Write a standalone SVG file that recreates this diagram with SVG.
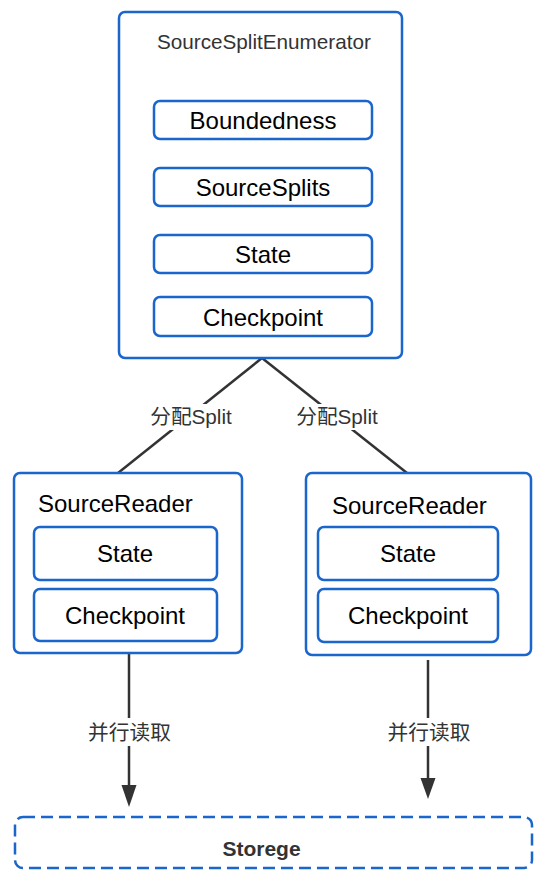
<svg xmlns="http://www.w3.org/2000/svg" width="544" height="881" viewBox="0 0 544 881">
<defs>
<style>
.box{fill:#fff;stroke:#1a66cc;stroke-width:2.5}
.dash{fill:#fff;stroke:#1a66cc;stroke-width:2.5;stroke-dasharray:12 6}
.t{font-family:"Liberation Sans",Arial,sans-serif;font-size:24px;fill:#000;text-anchor:middle}
.s{text-anchor:start}
.title{font-family:"Liberation Sans",Arial,sans-serif;font-size:20.7px;fill:#333}
.lbl{font-family:"Liberation Sans","Noto Sans CJK SC",sans-serif;font-size:20.7px;fill:#333;text-anchor:middle}
.ln{stroke:#333;stroke-width:2.5;fill:none}
</style>
</defs>
<g id="connectors">
<line class="ln" x1="262" y1="358" x2="118" y2="473"/>
<line class="ln" x1="262" y1="358" x2="407" y2="473"/>
<rect x="147" y="404" width="88" height="26" fill="#fff"/>
<rect x="293" y="404" width="88" height="26" fill="#fff"/>
<text class="lbl" x="191" y="424">分配Split</text>
<text class="lbl" x="337" y="424">分配Split</text>
<line class="ln" x1="129" y1="653" x2="129" y2="786"/>
<path d="M121.5,785 L136.5,785 L129,807 Z" fill="#333"/>
<line class="ln" x1="428" y1="660" x2="428" y2="779"/>
<path d="M420.5,778 L435.5,778 L428,799 Z" fill="#333"/>
<rect x="85" y="718" width="88" height="28" fill="#fff"/>
<rect x="384" y="718" width="88" height="28" fill="#fff"/>
<text class="lbl" x="129.5" y="740">并行读取</text>
<text class="lbl" x="429" y="740">并行读取</text>
</g>
<g id="enumerator">
<rect class="box" x="119" y="12" width="283" height="346" rx="6"/>
<text class="title" x="157" y="49">SourceSplitEnumerator</text>
</g>
<g id="boundedness">
<rect class="box" x="154" y="101" width="218" height="38" rx="6"/>
<text class="t" x="263" y="129">Boundedness</text>
</g>
<g id="sourcesplits">
<rect class="box" x="154" y="168" width="218" height="38" rx="6"/>
<text class="t" x="263" y="196">SourceSplits</text>
</g>
<g id="enum-state">
<rect class="box" x="154" y="235" width="218" height="38" rx="6"/>
<text class="t" x="263" y="263">State</text>
</g>
<g id="enum-checkpoint">
<rect class="box" x="154" y="297" width="218" height="39" rx="6"/>
<text class="t" x="263" y="325.5">Checkpoint</text>
</g>
<g id="reader-left">
<rect class="box" x="14" y="473" width="228" height="180" rx="6"/>
<text class="t s" x="38" y="512">SourceReader</text>
<rect class="box" x="34" y="527" width="183" height="53" rx="6"/>
<text class="t" x="125" y="562">State</text>
<rect class="box" x="34" y="589" width="183" height="52" rx="6"/>
<text class="t" x="125" y="624">Checkpoint</text>
</g>
<g id="reader-right">
<rect class="box" x="306" y="473" width="225" height="182" rx="6"/>
<text class="t s" x="332" y="514">SourceReader</text>
<rect class="box" x="318" y="527" width="180" height="53" rx="6"/>
<text class="t" x="408" y="562">State</text>
<rect class="box" x="318" y="589" width="180" height="53" rx="6"/>
<text class="t" x="408" y="624">Checkpoint</text>
</g>
<g id="storege">
<rect class="dash" x="15" y="817" width="517" height="51" rx="8"/>
<text x="261.5" y="856" style="font-family:'Liberation Sans',Arial,sans-serif;font-size:21px;font-weight:bold;fill:#333;text-anchor:middle">Storege</text>
</g>
</svg>
